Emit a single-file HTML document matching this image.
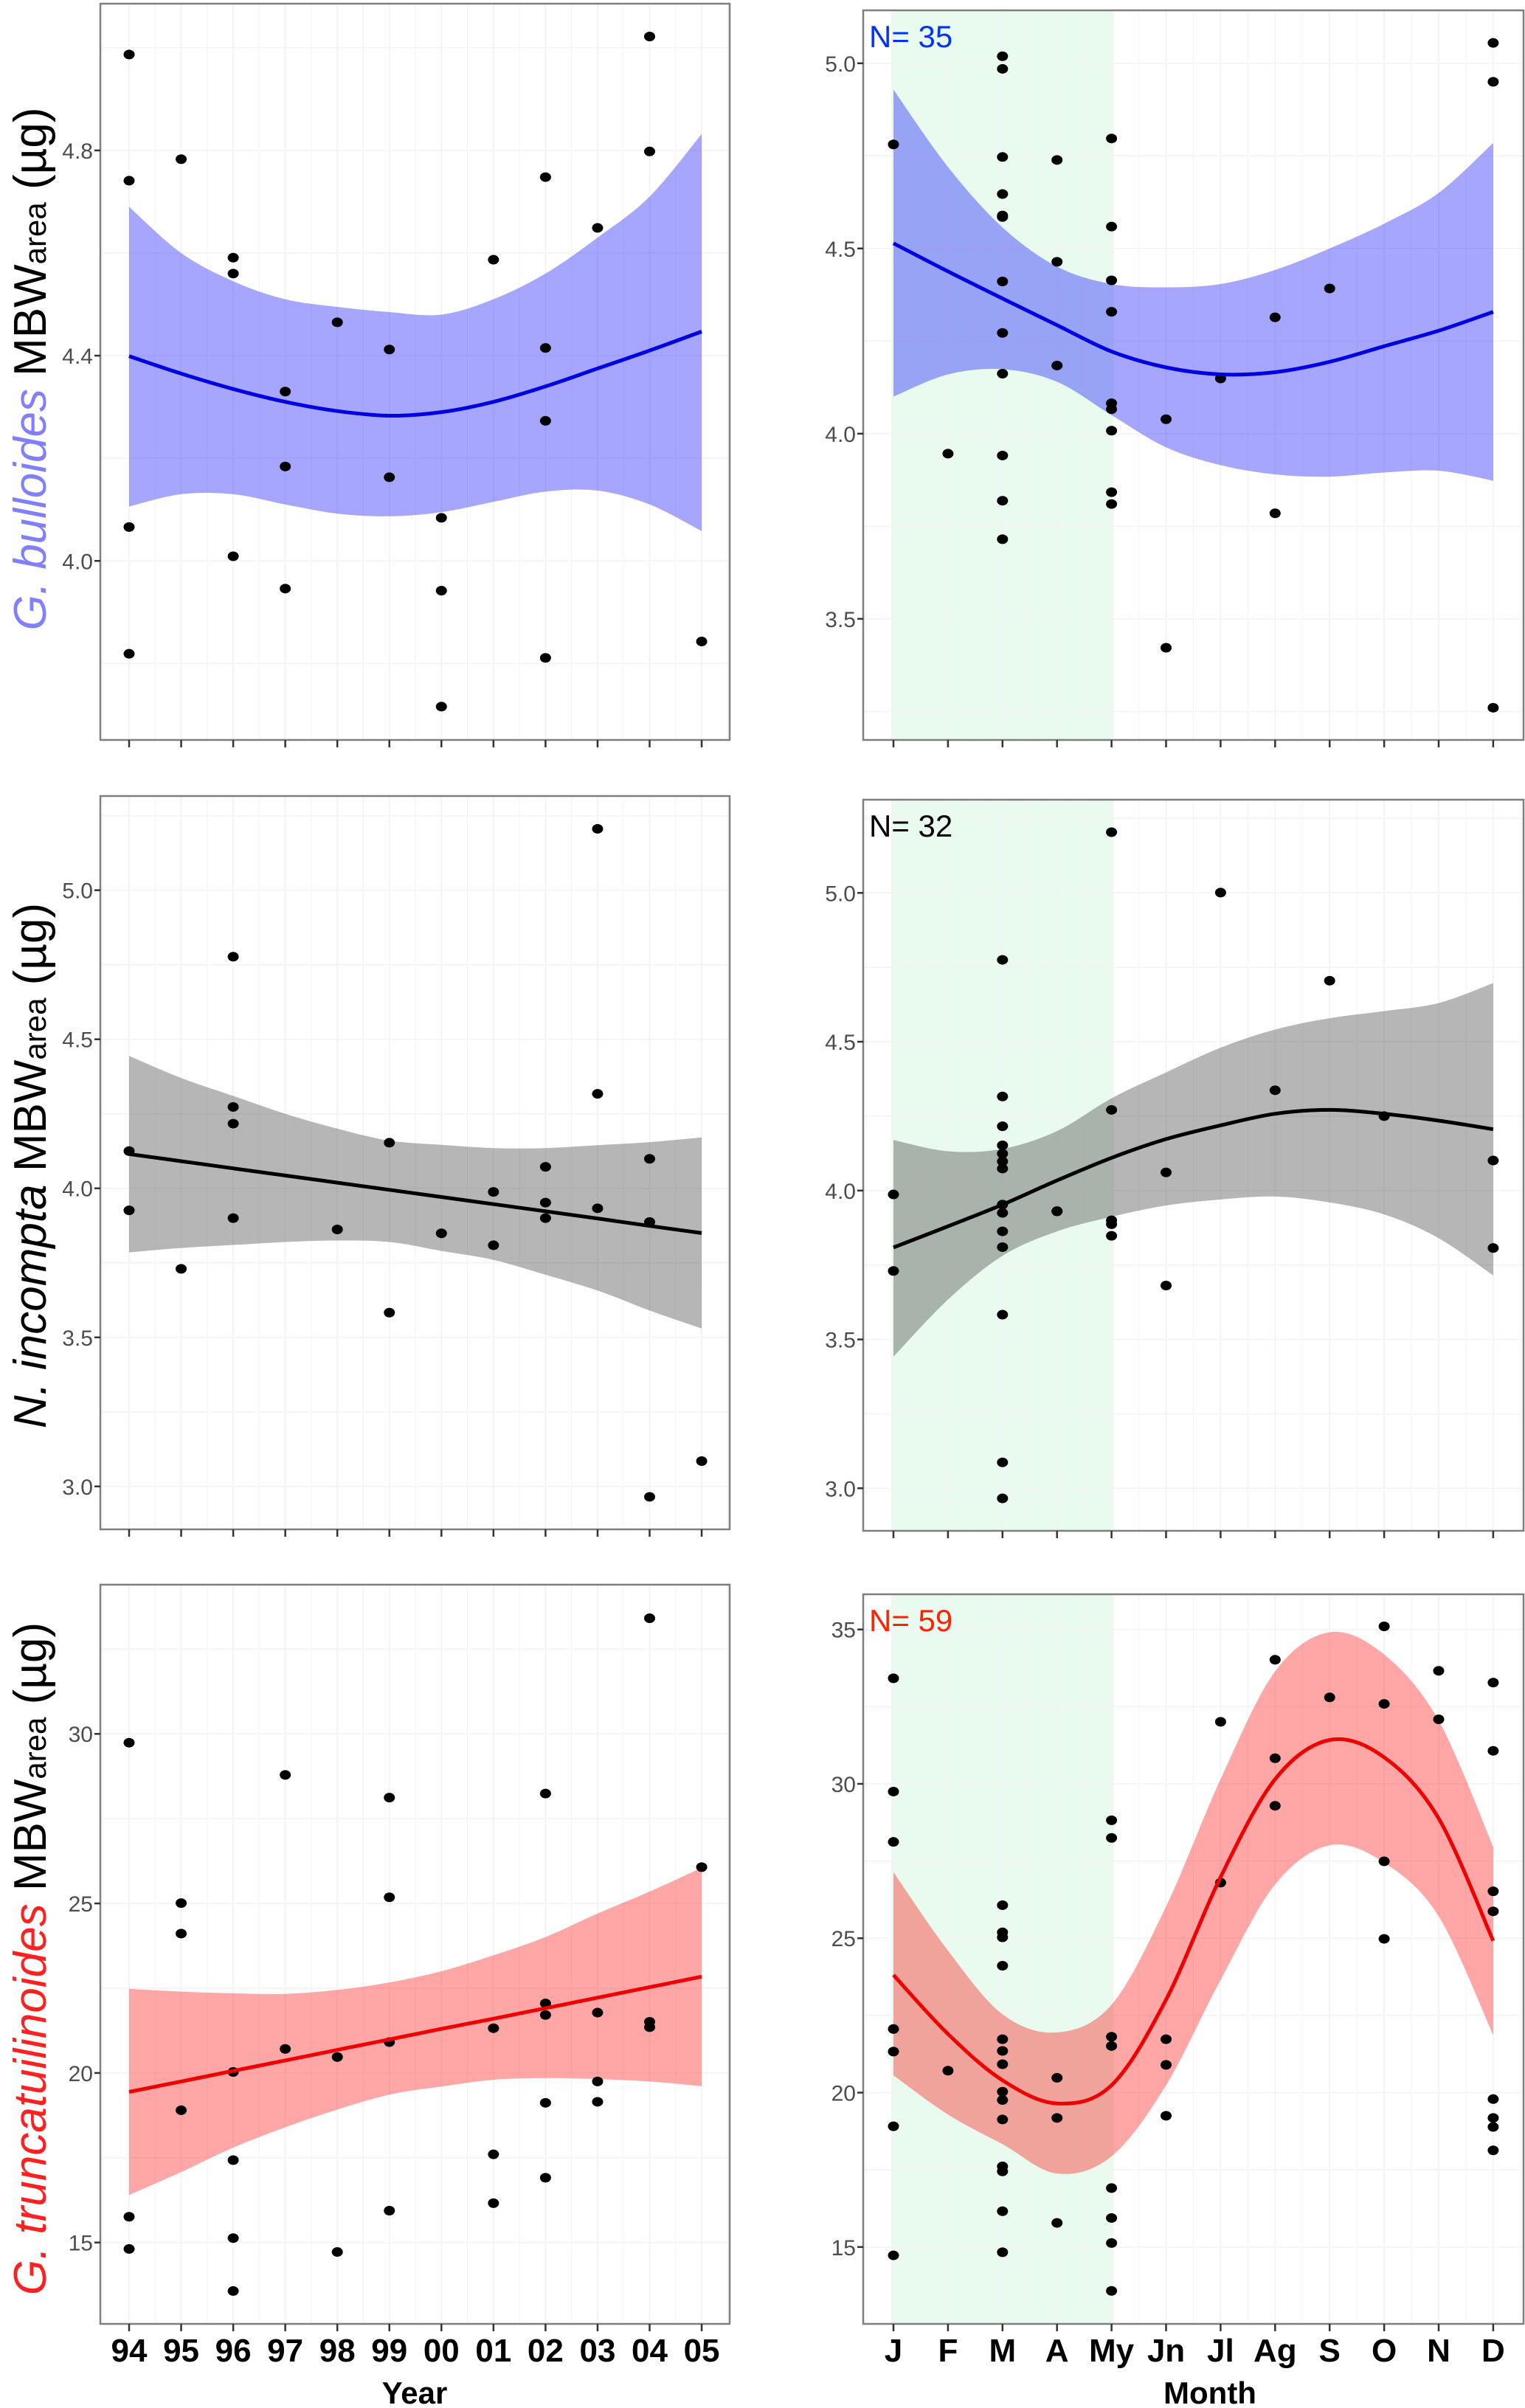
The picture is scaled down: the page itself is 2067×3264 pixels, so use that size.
<!DOCTYPE html>
<html><head><meta charset="utf-8"><style>
html,body{margin:0;padding:0;background:#fff}
svg{display:block;font-family:"Liberation Sans",Arial,sans-serif}
</style></head><body>
<svg id="fig" xmlns="http://www.w3.org/2000/svg" width="2067" height="3264" viewBox="0 0 2067 3264">
<text transform="translate(62,500) rotate(-90)" text-anchor="middle" font-size="62" fill="#000"><tspan font-style="italic" fill="#7f7fff">G. bulloides</tspan> MBW<tspan font-size="42">area</tspan> (µg)</text>
<text transform="translate(62,1580) rotate(-90)" text-anchor="middle" font-size="62" fill="#000"><tspan font-style="italic">N. incompta</tspan> MBW<tspan font-size="42">area</tspan> (µg)</text>
<text transform="translate(62,2655) rotate(-90)" text-anchor="middle" font-size="62" fill="#000"><tspan font-style="italic" fill="#ff2020">G. truncatuilinoides</tspan> MBW<tspan font-size="42">area</tspan> (µg)</text>
<text x="562" y="3258" text-anchor="middle" font-size="42" font-weight="bold">Year</text>
<text x="1640" y="3258" text-anchor="middle" font-size="42" font-weight="bold">Month</text>
</svg>
<script>
// ---------- data ----------
const yearLabels = ["94","95","96","97","98","99","00","01","02","03","04","05"];
const monthLabels = ["J","F","M","A","My","Jn","Jl","Ag","S","O","N","D"];

// G. bulloides by year: [yearIndex, value]
const bulYearPts = [[0,4.987],[0,4.741],[0,4.066],[0,3.819],[1,4.783],[2,4.591],[2,4.560],[2,4.009],[3,4.330],[3,4.184],[3,3.946],[4,4.465],[5,4.412],[5,4.163],[6,4.084],[6,3.942],[6,3.716],[7,4.587],[8,4.748],[8,4.415],[8,4.273],[8,3.811],[9,4.649],[10,5.022],[10,4.798],[11,3.843]];
const bulYearFit = [4.399,4.365,4.335,4.31,4.292,4.283,4.29,4.31,4.34,4.375,4.41,4.447];
const bulYearUpper = [4.69,4.60,4.545,4.51,4.495,4.485,4.48,4.51,4.56,4.63,4.71,4.832];
const bulYearLower = [4.106,4.13,4.13,4.11,4.092,4.087,4.095,4.115,4.135,4.137,4.11,4.058];

// G. bulloides by month
const bulMonthPts = [[0,4.781],[1,3.946],[2,5.019],[2,4.985],[2,4.747],[2,4.647],[2,4.589],[2,4.585],[2,4.411],[2,4.272],[2,4.162],[2,3.941],[2,3.819],[2,3.715],[3,4.739],[3,4.464],[3,4.184],[4,4.797],[4,4.559],[4,4.414],[4,4.329],[4,4.082],[4,4.066],[4,4.008],[4,3.842],[4,3.810],[5,4.039],[5,3.422],[6,4.149],[7,4.314],[7,3.785],[8,4.392],[11,5.055],[11,4.950],[11,3.260]];
const bulMonthFit = [4.514,4.438,4.365,4.293,4.222,4.179,4.160,4.166,4.194,4.236,4.278,4.329];
const bulMonthUpper = [4.929,4.72,4.557,4.451,4.404,4.395,4.404,4.442,4.50,4.567,4.65,4.785];
const bulMonthLower = [4.10,4.16,4.174,4.14,4.05,3.963,3.915,3.89,3.884,3.895,3.90,3.873];

// N. incompta by year
const incYearPts = [[0,4.125],[0,3.926],[1,3.730],[2,4.777],[2,4.273],[2,4.217],[2,3.900],[4,3.862],[5,4.153],[5,3.583],[6,3.849],[7,3.988],[7,3.809],[8,4.072],[8,3.952],[8,3.900],[9,5.206],[9,4.317],[9,3.933],[10,4.099],[10,3.887],[10,2.965],[11,3.085]];
const incYearFit = [4.115,4.091,4.067,4.043,4.019,3.995,3.971,3.947,3.923,3.899,3.874,3.850];
const incYearUpper = [4.444,4.37,4.31,4.25,4.20,4.16,4.146,4.135,4.135,4.145,4.155,4.171];
const incYearLower = [3.785,3.80,3.81,3.82,3.825,3.82,3.79,3.76,3.71,3.657,3.59,3.530];

// N. incompta by month
const incMonthPts = [[0,3.987],[0,3.730],[2,4.775],[2,4.316],[2,4.216],[2,4.152],[2,4.124],[2,4.098],[2,4.074],[2,3.953],[2,3.925],[2,3.863],[2,3.810],[2,3.583],[2,3.087],[2,2.966],[3,3.931],[3,3.930],[4,5.204],[4,4.271],[4,3.900],[4,3.887],[4,3.848],[5,4.061],[5,3.681],[6,5.001],[7,4.337],[8,4.705],[9,4.250],[11,4.101],[11,3.807]];
const incMonthFit = [3.809,3.88,3.953,4.034,4.110,4.173,4.219,4.258,4.271,4.258,4.235,4.206];
const incMonthUpper = [4.17,4.132,4.14,4.20,4.31,4.397,4.48,4.541,4.579,4.603,4.63,4.697];
const incMonthLower = [3.442,3.634,3.781,3.863,3.912,3.95,3.97,3.98,3.96,3.92,3.84,3.715];

// G. truncatulinoides by year
const truYearPts = [[0,29.74],[0,15.76],[0,14.81],[1,25.01],[1,24.11],[1,18.90],[2,20.03],[2,17.43],[2,15.13],[2,13.57],[3,28.79],[3,20.71],[4,20.47],[4,14.72],[5,28.12],[5,25.18],[5,20.91],[5,15.94],[7,21.32],[7,17.60],[7,16.16],[8,28.24],[8,22.05],[8,21.71],[8,19.12],[8,16.91],[9,21.78],[9,19.75],[9,19.15],[10,33.41],[10,21.51],[10,21.35],[11,26.07]];
const truYearFit = [19.44,19.75,20.06,20.37,20.68,20.99,21.30,21.60,21.91,22.22,22.53,22.84];
const truYearUpper = [22.48,22.4,22.35,22.33,22.45,22.67,23.0,23.47,24.01,24.7,25.35,26.05];
const truYearLower = [16.40,17.08,17.80,18.4,18.92,19.36,19.6,19.8,19.85,19.82,19.75,19.61];

// G. truncatulinoides by month
const truMonthPts = [[0,33.42],[0,29.75],[0,28.12],[0,22.06],[0,21.33],[0,18.91],[0,14.73],[1,20.71],[2,26.07],[2,25.19],[2,25.03],[2,24.11],[2,21.73],[2,21.35],[2,20.92],[2,20.03],[2,19.76],[2,19.13],[2,17.61],[2,17.45],[2,16.16],[2,14.83],[3,20.48],[3,19.18],[3,15.78],[4,28.82],[4,28.25],[4,21.81],[4,21.51],[4,16.91],[4,15.94],[4,15.13],[4,13.58],[5,21.73],[5,20.90],[5,19.25],[6,32.01],[6,26.80],[7,34.02],[7,30.83],[7,29.29],[8,32.80],[9,35.10],[9,32.59],[9,27.49],[9,24.98],[10,33.66],[10,32.09],[11,33.28],[11,31.07],[11,26.52],[11,25.87],[11,19.79],[11,19.18],[11,18.89],[11,18.13]];
const truMonthFit = [23.81,21.90,20.40,19.65,20.24,23.01,26.98,30.15,31.42,30.86,28.88,24.92];
const truMonthUpper = [27.14,24.6,22.54,21.95,22.85,26.03,30.15,33.64,34.91,34.19,32.05,27.96];
const truMonthLower = [20.56,19.29,18.33,17.38,17.94,20.24,23.65,26.74,28.01,27.45,25.71,21.87];

// ---------- drawing ----------
const NS = "http://www.w3.org/2000/svg";
const svg = document.getElementById("fig");
function mk(tag, attrs, parent) {
  const e = document.createElementNS(NS, tag);
  for (const k in attrs) e.setAttribute(k, attrs[k]);
  (parent || svg).appendChild(e);
  return e;
}
function smooth(pts) {
  let d = "M" + pts[0][0].toFixed(1) + "," + pts[0][1].toFixed(1);
  for (let i = 0; i < pts.length - 1; i++) {
    const p0 = pts[Math.max(0, i - 1)], p1 = pts[i], p2 = pts[i + 1], p3 = pts[Math.min(pts.length - 1, i + 2)];
    const c1x = p1[0] + (p2[0] - p0[0]) / 6, c1y = p1[1] + (p2[1] - p0[1]) / 6;
    const c2x = p2[0] - (p3[0] - p1[0]) / 6, c2y = p2[1] - (p3[1] - p1[1]) / 6;
    d += " C" + c1x.toFixed(1) + "," + c1y.toFixed(1) + " " + c2x.toFixed(1) + "," + c2y.toFixed(1) + " " + p2[0].toFixed(1) + "," + p2[1].toFixed(1);
  }
  return d;
}
function segs(pts) { return smooth(pts).replace(/^M[^C]*/, ""); }

function panel(cfg) {
  const g = mk("g", {});
  
  
  const sx = i => cfg.xStart + cfg.xStep * i;
  const sy = v => cfg.y1 - (v - cfg.ymin) / (cfg.ymax - cfg.ymin) * (cfg.y1 - cfg.y0);
  if (cfg.green) {
    const gr = mk("rect", {x: sx(0) - 3, y: cfg.y0, width: sx(4) - sx(0) + 6, height: cfg.y1 - cfg.y0, fill: "#e8fbee"}, g);
    
    
  }
  for (let i = -0.5; i <= cfg.labels.length - 0.5; i += 0.5) {
    const x = sx(i);
    if (x <= cfg.x0 || x >= cfg.x1) continue;
    const l = mk("line", {x1: x, x2: x, y1: cfg.y0, y2: cfg.y1, stroke: "#f3f3f3", "stroke-width": i % 1 === 0 ? 1.8 : 1}, g);
    
    
  }
  for (let v = cfg.ticks[0] - cfg.tickStep * 2; v <= cfg.ymax; v += cfg.tickStep / 2) {
    const y = sy(v);
    if (y <= cfg.y0 || y >= cfg.y1) continue;
    const l = mk("line", {x1: cfg.x0, x2: cfg.x1, y1: y, y2: y, stroke: "#f3f3f3", "stroke-width": 1.5}, g);
    
    
  }
  const up = cfg.upper.map((v, i) => [sx(i), sy(v)]);
  const lo = cfg.lower.map((v, i) => [sx(i), sy(v)]).reverse();
  const band = mk("path", {d: smooth(up) + " L" + lo[0][0] + "," + lo[0][1].toFixed(1) + segs(lo) + " Z", fill: cfg.bandColor, "fill-opacity": cfg.bandOpacity}, g);
  
  
  cfg.pts.forEach(p => {
    const c = mk("ellipse", {cx: sx(p[0]), cy: sy(p[1]), rx: 7.5, ry: 6.5, fill: "#000"}, g);
    
    
  });
  const fl = mk("path", {d: smooth(cfg.fit.map((v, i) => [sx(i), sy(v)])), fill: "none", stroke: cfg.lineColor, "stroke-width": 5}, g);
  
  
  const fr = mk("rect", {x: cfg.x0, y: cfg.y0, width: cfg.x1 - cfg.x0, height: cfg.y1 - cfg.y0, fill: "none", stroke: "#7f7f7f", "stroke-width": 2.5}, g);
  
  
  cfg.ticks.forEach(v => {
    const y = sy(v);
    const t = mk("line", {x1: cfg.x0 - 8, x2: cfg.x0, y1: y, y2: y, stroke: "#333", "stroke-width": 2.5}, g);
    
    
    const tx = mk("text", {x: cfg.x0 - 10, y: y + 11, "text-anchor": "end", "font-size": 30, fill: "#4d4d4d"}, g);
    tx.textContent = cfg.tickFmt(v);
    
    
  });
  cfg.labels.forEach((lab, i) => {
    const x = sx(i);
    const t = mk("line", {x1: x, x2: x, y1: cfg.y1, y2: cfg.y1 + 10, stroke: "#333", "stroke-width": 2.5}, g);
    
    
    if (cfg.showLabels) {
      const tx = mk("text", {x: x, y: 3201, "text-anchor": "middle", "font-size": 44, "font-weight": "bold", fill: "#000"}, g);
      tx.textContent = lab;
      
      
    }
  });
  if (cfg.nText) {
    const n = mk("text", {x: cfg.x0 + 8, y: cfg.y0 + 50, "font-size": 42, fill: cfg.nColor}, g);
    n.textContent = cfg.nText;
    
    
  }
}
const f1 = v => v.toFixed(1), f0 = v => v.toFixed(0);
const L = {x0: 136, x1: 989, xStart: 175, xStep: 70.55, labels: yearLabels};
const R = {x0: 1170, x1: 2065, xStart: 1211, xStep: 73.9, labels: monthLabels, green: true};

panel(Object.assign({}, L, {name: "panel-bulloides-year", y0: 5, y1: 1003, ymin: 3.651, ymax: 5.086, ticks: [4.0, 4.4, 4.8], tickStep: 0.4, tickFmt: f1, pts: bulYearPts, fit: bulYearFit, upper: bulYearUpper, lower: bulYearLower, bandColor: "#0000ff", bandOpacity: 0.35, lineColor: "#0000e0"}));
panel(Object.assign({}, R, {name: "panel-bulloides-month", y0: 14, y1: 1003, ymin: 3.173, ymax: 5.143, ticks: [3.5, 4.0, 4.5, 5.0], tickStep: 0.5, tickFmt: f1, pts: bulMonthPts, fit: bulMonthFit, upper: bulMonthUpper, lower: bulMonthLower, bandColor: "#0000ff", bandOpacity: 0.35, lineColor: "#0000e0", nText: "N= 35", nColor: "#0033ff"}));
panel(Object.assign({}, L, {name: "panel-incompta-year", y0: 1079, y1: 2073, ymin: 2.856, ymax: 5.316, ticks: [3.0, 3.5, 4.0, 4.5, 5.0], tickStep: 0.5, tickFmt: f1, pts: incYearPts, fit: incYearFit, upper: incYearUpper, lower: incYearLower, bandColor: "#3a3a3a", bandOpacity: 0.37, lineColor: "#000"}));
panel(Object.assign({}, R, {name: "panel-incompta-month", y0: 1084, y1: 2075, ymin: 2.857, ymax: 5.313, ticks: [3.0, 3.5, 4.0, 4.5, 5.0], tickStep: 0.5, tickFmt: f1, pts: incMonthPts, fit: incMonthFit, upper: incMonthUpper, lower: incMonthLower, bandColor: "#3a3a3a", bandOpacity: 0.37, lineColor: "#000", nText: "N= 32", nColor: "#000"}));
panel(Object.assign({}, L, {name: "panel-truncatulinoides-year", y0: 2148, y1: 3150, ymin: 12.60, ymax: 34.40, ticks: [15, 20, 25, 30], tickStep: 5, tickFmt: f0, pts: truYearPts, fit: truYearFit, upper: truYearUpper, lower: truYearLower, bandColor: "#ff0000", bandOpacity: 0.35, lineColor: "#ee0000", showLabels: true}));
panel(Object.assign({}, R, {name: "panel-truncatulinoides-month", y0: 2161, y1: 3150, ymin: 12.51, ymax: 36.14, ticks: [15, 20, 25, 30, 35], tickStep: 5, tickFmt: f0, pts: truMonthPts, fit: truMonthFit, upper: truMonthUpper, lower: truMonthLower, bandColor: "#ff0000", bandOpacity: 0.35, lineColor: "#ee0000", nText: "N= 59", nColor: "#ff2200", showLabels: true}));
</script>
</body></html>
